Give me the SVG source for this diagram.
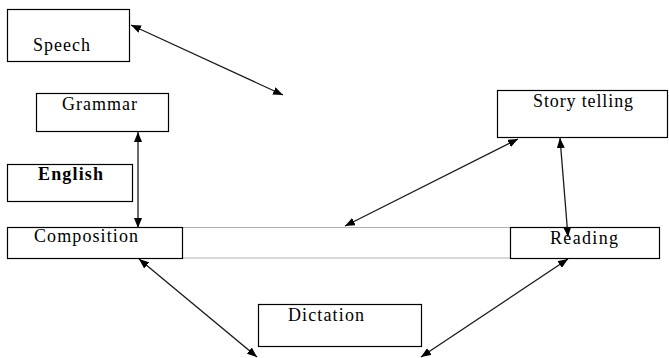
<svg xmlns="http://www.w3.org/2000/svg" width="669" height="358" viewBox="0 0 669 358">
<style>
.box{fill:#fff;stroke:#000;stroke-width:1.2}
.t{font-family:"Liberation Serif","Times New Roman",serif;font-size:18px;fill:#000}
.b{font-weight:bold}
.c{stroke:#1a1a1a;stroke-width:1.3;fill:none;marker-start:url(#ah);marker-end:url(#ah)}
.g{stroke:#b0b0b0;stroke-width:1.2}
</style>
<defs>
<marker id="ah" viewBox="0 0 10 8" refX="10" refY="4" markerWidth="10" markerHeight="8" markerUnits="userSpaceOnUse" orient="auto-start-reverse">
<path d="M0,0 L10,4 L0,8 Z" fill="#000"/>
</marker>
</defs>
<g id="band">
<line class="g" x1="183" y1="227.5" x2="510" y2="227.5"/>
<line class="g" x1="183" y1="258" x2="510" y2="258"/>
</g>
<g id="speech"><rect class="box" x="7.5" y="9.5" width="122" height="52"/><text class="t" x="33" y="51" textLength="57">Speech</text></g>
<g id="grammar"><rect class="box" x="36.5" y="93.5" width="132" height="38"/><text class="t" x="62" y="110" textLength="75">Grammar</text></g>
<g id="english"><rect class="box" x="7.5" y="164.5" width="125" height="37"/><text class="t b" x="38" y="180" textLength="65">English</text></g>
<g id="composition"><rect class="box" x="7.5" y="227.5" width="175" height="31"/><text class="t" x="34" y="242" textLength="104">Composition</text></g>
<g id="storytelling"><rect class="box" x="497.5" y="90.5" width="170" height="47"/><text class="t" x="533" y="107" textLength="100">Story telling</text></g>
<g id="reading"><rect class="box" x="510.5" y="227.5" width="149" height="31"/><text class="t" x="550" y="244" textLength="68">Reading</text></g>
<g id="dictation"><rect class="box" x="258.5" y="304.5" width="163" height="42"/><text class="t" x="288" y="321" textLength="76">Dictation</text></g>
<g id="connectors">
<line class="c" x1="131" y1="25" x2="283" y2="95"/>
<line class="c" x1="138" y1="132" x2="138" y2="228"/>
<line class="c" x1="518" y1="139" x2="345" y2="226"/>
<line class="c" x1="560" y1="138" x2="568" y2="237"/>
<line class="c" x1="139" y1="259" x2="257" y2="357"/>
<line class="c" x1="568" y1="259" x2="421" y2="357"/>
</g>
</svg>
